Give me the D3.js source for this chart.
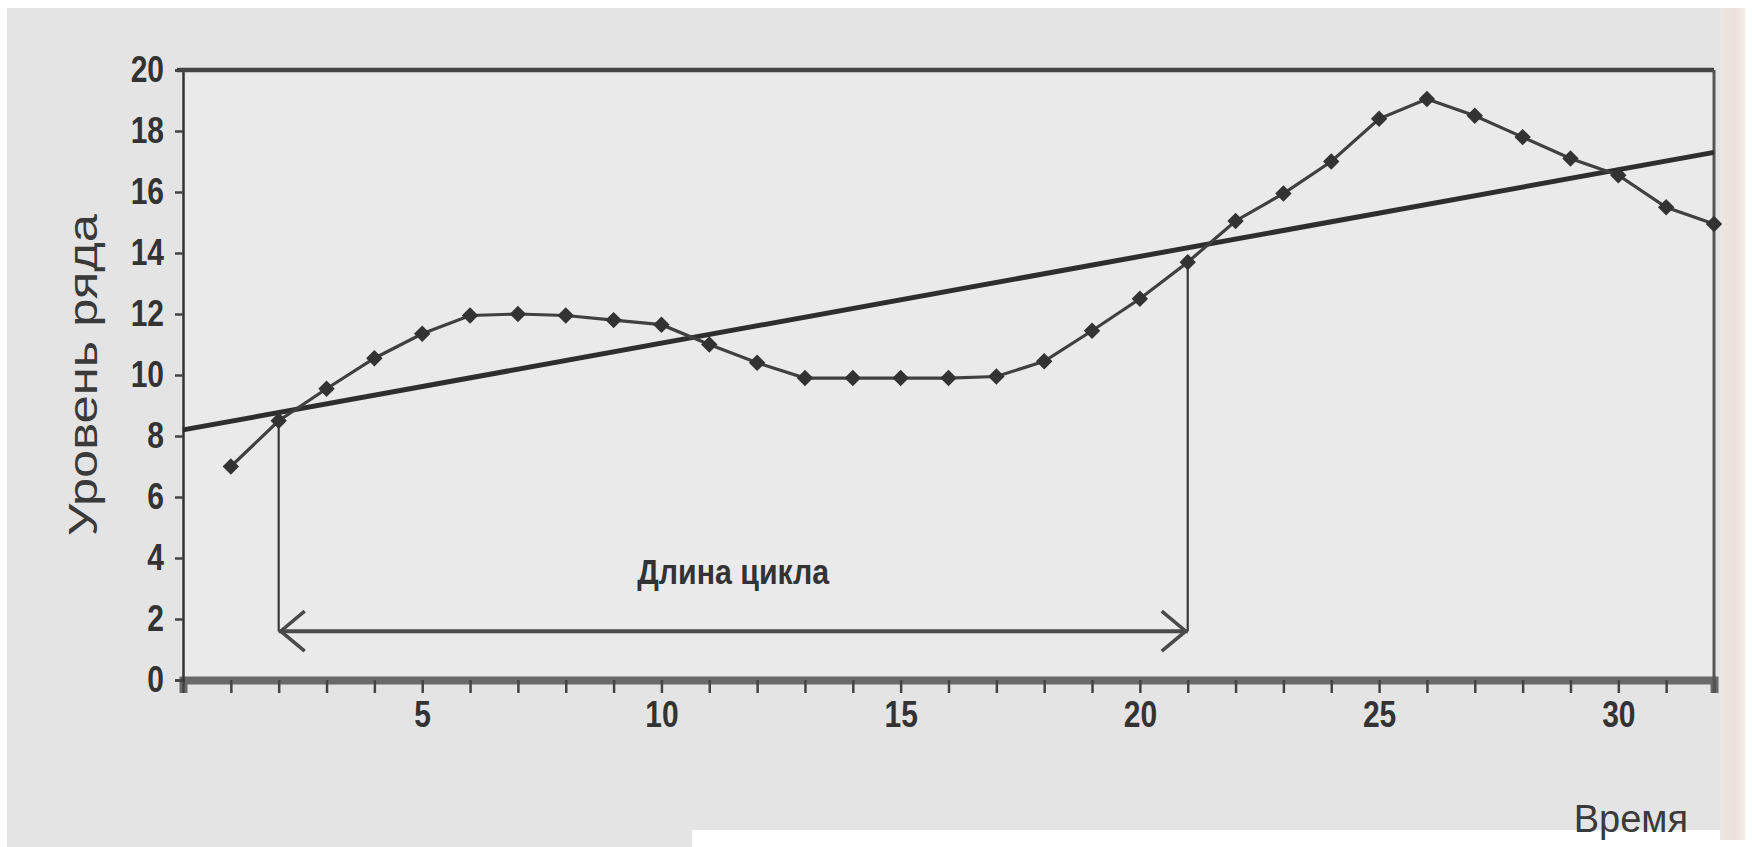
<!DOCTYPE html>
<html>
<head>
<meta charset="utf-8">
<script src="https://cdn.jsdelivr.net/npm/d3@7"></script>
<style>
  body { margin: 0; background: #fff; }
  text { font-family: "Liberation Sans", Arial, sans-serif; }
</style>
</head>
<body>
<div id="chart"></div>
<script>
// data
const times = [1, 2, 3, 4, 5, 6, 7, 8, 9, 10, 11, 12, 13, 14, 15, 16,
               17, 18, 19, 20, 21, 22, 23, 24, 25, 26, 27, 28, 29, 30, 31, 32];
const levels = [7.0, 8.5, 9.55, 10.55, 11.35, 11.95, 12.0, 11.95, 11.8, 11.65, 11.0, 10.4,
                9.9, 9.9, 9.9, 9.9, 9.95, 10.45, 11.45, 12.5, 13.7, 15.05, 15.95, 17.0,
                18.4, 19.05, 18.5, 17.8, 17.1, 16.55, 15.5, 14.95];
const trendTimes = [0, 32];
const trendLevels = [8.2, 17.3];
const cycleTimes = [2, 21];
const cycleArrowLevel = 1.6;
const yTicks = [0, 2, 4, 6, 8, 10, 12, 14, 16, 18, 20];
const xTickLabels = [5, 10, 15, 20, 25, 30];

const W = 1752, H = 847;
const margin = { top: 70, right: 38, bottom: 167, left: 183 },
    width = W - margin.left - margin.right,
    height = H - margin.top - margin.bottom;

const svg = d3.select('#chart')
    .append('svg')
    .attr('width', W)
    .attr('height', H);

// scanned paper background
svg.append('rect').attr('width', W).attr('height', H).attr('fill', '#fff');
svg.append('rect').attr('x', 7).attr('y', 8).attr('width', 1713).attr('height', H - 8).attr('fill', '#e4e4e4');
svg.append('rect').attr('x', 692).attr('y', 830).attr('width', W - 692).attr('height', H - 830).attr('fill', '#fff');
const grad = svg.append('defs').append('linearGradient').attr('id', 'edge');
grad.append('stop').attr('offset', '0%').attr('stop-color', '#ebe7e5');
grad.append('stop').attr('offset', '60%').attr('stop-color', '#eee0da');
grad.append('stop').attr('offset', '100%').attr('stop-color', '#f4ece8');
svg.append('rect').attr('x', 1720).attr('y', 8).attr('width', 25).attr('height', 832).attr('fill', 'url(#edge)');

const g = svg.append('g')
    .attr('transform', `translate(${margin.left} ${margin.top})`);

const x = d3.scaleLinear().domain([0, 32]).range([0, width]);
const y = d3.scaleLinear().domain([0, 20]).range([height, 0]);

g.append('rect')
    .attr('width', width).attr('height', height)
    .attr('fill', '#eaeaea');

// x axis: a tick at every time step, labels every 5
const xAxis = g.append('g')
    .attr('transform', `translate(0 ${height})`)
    .call(d3.axisBottom(x)
        .tickValues(d3.range(0, 33))
        .tickSize(13)
        .tickPadding(0)
        .tickFormat(d => xTickLabels.includes(d) ? d : ''));
xAxis.select('.domain').attr('stroke', '#6a6a6a').attr('stroke-width', 8);
xAxis.selectAll('.tick line').attr('stroke', '#444').attr('stroke-width', 2.5);
xAxis.selectAll('.tick text')
    .attr('y', 0).attr('dy', 0)
    .attr('transform', 'translate(0 47) scale(1 1.2)')
    .attr('fill', '#333').attr('font-size', 30).attr('font-weight', 'bold')
    .attr('font-family', '"Liberation Sans", Arial, sans-serif');

const yAxis = g.append('g')
    .call(d3.axisLeft(y)
        .tickValues(yTicks)
        .tickSize(8)
        .tickPadding(11));
yAxis.select('.domain').attr('stroke', '#333').attr('stroke-width', 2.5);
yAxis.selectAll('.tick line').attr('stroke', '#444').attr('stroke-width', 2.5);
yAxis.selectAll('.tick text')
    .attr('transform', 'scale(1 1.2)')
    .attr('fill', '#333').attr('font-size', 30).attr('font-weight', 'bold')
    .attr('font-family', '"Liberation Sans", Arial, sans-serif');

// top and right sides of the frame
g.append('line')
    .attr('x1', -6).attr('x2', width).attr('y1', y(20)).attr('y2', y(20))
    .attr('stroke', '#444').attr('stroke-width', 4.5);
g.append('line')
    .attr('x1', x(32)).attr('x2', x(32)).attr('y1', y(20)).attr('y2', height + 13)
    .attr('stroke', '#555').attr('stroke-width', 3);

// trend line
g.append('path')
    .datum(trendTimes.map((t, i) => [t, trendLevels[i]]))
    .attr('d', d3.line().x(d => x(d[0])).y(d => y(d[1])))
    .attr('fill', 'none')
    .attr('stroke', '#2e2e2e')
    .attr('stroke-width', 5);

// cycle length bracket
const levelAt = t => levels[times.indexOf(t)];
cycleTimes.forEach(t => {
    g.append('line')
        .attr('x1', x(t)).attr('x2', x(t))
        .attr('y1', y(levelAt(t))).attr('y2', y(cycleArrowLevel))
        .attr('stroke', '#3a3a3a').attr('stroke-width', 2.2);
});
const ay = y(cycleArrowLevel);
const x0 = x(cycleTimes[0]), x1 = x(cycleTimes[1]);
g.append('line')
    .attr('x1', x0).attr('x2', x1).attr('y1', ay).attr('y2', ay)
    .attr('stroke', '#4a4a4a').attr('stroke-width', 4);
g.append('path')
    .attr('d', `M${x0 + 26},${ay - 20} L${x0 + 2},${ay} L${x0 + 26},${ay + 20}`)
    .attr('fill', 'none').attr('stroke', '#4a4a4a').attr('stroke-width', 3.5);
g.append('path')
    .attr('d', `M${x1 - 26},${ay - 20} L${x1 - 2},${ay} L${x1 - 26},${ay + 20}`)
    .attr('fill', 'none').attr('stroke', '#4a4a4a').attr('stroke-width', 3.5);

g.append('text')
    .attr('transform', `translate(${(x0 + x1) / 2} ${y(3.15)}) scale(1 1.2)`)
    .attr('text-anchor', 'middle')
    .attr('font-size', 29)
    .attr('font-weight', 'bold')
    .attr('fill', '#333')
    .attr('textLength', 192)
    .attr('lengthAdjust', 'spacingAndGlyphs')
    .text('Длина цикла');

// series line with diamond markers
g.append('path')
    .datum(times.map((t, i) => [t, levels[i]]))
    .attr('d', d3.line().x(d => x(d[0])).y(d => y(d[1])))
    .attr('fill', 'none')
    .attr('stroke', '#404040')
    .attr('stroke-width', 3.2);

g.selectAll('.marker')
    .data(times.map((t, i) => [t, levels[i]]))
    .join('path')
    .attr('class', 'marker')
    .attr('d', d3.symbol(d3.symbolSquare, 135))
    .attr('transform', d => `translate(${x(d[0])} ${y(d[1])}) rotate(45)`)
    .attr('fill', '#333');

// axis titles
g.append('text')
    .attr('transform', `translate(${97 - margin.left} ${375 - margin.top}) rotate(-90)`)
    .attr('text-anchor', 'middle')
    .attr('font-size', 40)
    .attr('fill', '#3a3a3a')
    .attr('textLength', 322)
    .attr('lengthAdjust', 'spacingAndGlyphs')
    .text('Уровень ряда');

g.append('text')
    .attr('x', 1688 - margin.left)
    .attr('y', 832 - margin.top)
    .attr('text-anchor', 'end')
    .attr('font-size', 38)
    .attr('fill', '#3a3a3a')
    .text('Время');
</script>
</body>
</html>
